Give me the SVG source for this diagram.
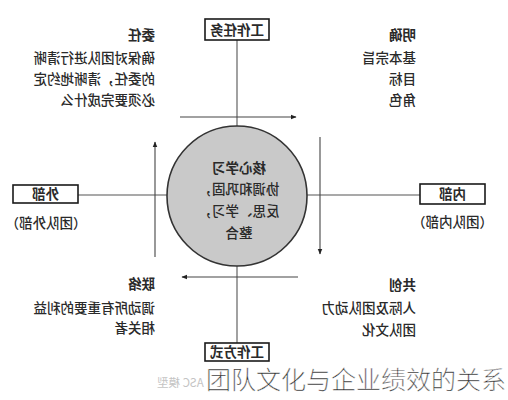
<svg xmlns="http://www.w3.org/2000/svg" width="508" height="400" viewBox="0 0 508 400">
<style>
  .t { font-family: "Noto Sans CJK SC", "Noto Sans", sans-serif; font-size: 13.5px; font-weight: 500; fill: #2a2a2a; }
  .b { font-weight: 700; }
  .c { text-anchor: middle; }
  .box { fill: #ffffff; stroke: #1a1a1a; stroke-width: 1.6; }
  .ln { stroke: #555; stroke-width: 1.1; fill: none; }
  .ar { stroke: #444; stroke-width: 1.1; fill: none; marker-end: url(#ah); }
</style>
<defs>
  <marker id="ah" viewBox="0 0 10 10" refX="9" refY="5" markerWidth="6" markerHeight="6" orient="auto" markerUnits="userSpaceOnUse">
    <path d="M0,1 L10,5 L0,9 Z" fill="#222"/>
  </marker>
</defs>
<rect width="508" height="400" fill="#ffffff"/>
<g id="mirrored" transform="matrix(-1 0 0 1 508 0)">
  <g id="connectors">
    <line class="ln" x1="271" y1="40" x2="271" y2="343"/>
    <line class="ln" x1="88" y1="195" x2="430" y2="195"/>
    <line class="ar" x1="328" y1="117" x2="212" y2="117"/>
    <line class="ar" x1="188" y1="137" x2="188" y2="254"/>
    <line class="ar" x1="210" y1="277" x2="326" y2="277"/>
    <line class="ar" x1="353" y1="257" x2="353" y2="142"/>
  </g>
  <g id="core">
    <circle cx="271" cy="196" r="70" fill="#c9c9c9" stroke="#333" stroke-width="1.6"/>
    <text class="t b c" x="269" y="173">核心学习</text>
    <text class="t c" x="269" y="194">协调和巩固，</text>
    <text class="t c" x="269" y="216">反思、学习，</text>
    <text class="t c" x="269" y="238">整合</text>
  </g>
  <g id="task">
    <rect class="box" x="239" y="19" width="64" height="21"/>
    <text class="t b c" x="271" y="34.5">工作任务</text>
  </g>
  <g id="way">
    <rect class="box" x="239" y="343" width="64" height="18"/>
    <text class="t b c" x="271" y="357">工作方式</text>
  </g>
  <g id="inner">
    <rect class="box" x="23" y="184" width="65" height="20"/>
    <text class="t b c" x="55.5" y="199">内部</text>
    <text class="t c" x="55.5" y="227">（团队内部）</text>
  </g>
  <g id="outer">
    <rect class="box" x="430" y="185" width="65" height="18"/>
    <text class="t b c" x="462.5" y="199">外部</text>
    <text class="t c" x="462" y="228">（团队外部）</text>
  </g>
  <g id="commission">
    <text class="t b" x="353" y="40">委任</text>
    <text class="t" x="353" y="63">确保对团队进行清晰</text>
    <text class="t" x="353" y="84">的委任，清晰地约定</text>
    <text class="t" x="353" y="105">必须要完成什么</text>
  </g>
  <g id="clarify">
    <text class="t b" x="92" y="40">明确</text>
    <text class="t" x="92" y="63">基本宗旨</text>
    <text class="t" x="92" y="84">目标</text>
    <text class="t" x="92" y="105">角色</text>
  </g>
  <g id="connect">
    <text class="t b" x="353" y="289">联络</text>
    <text class="t" x="353" y="313">调动所有重要的利益</text>
    <text class="t" x="353" y="333">相关者</text>
  </g>
  <g id="cocreate">
    <text class="t b" x="92" y="290">共创</text>
    <text class="t" x="92" y="313">人际及团队动力</text>
    <text class="t" x="92" y="335">团队文化</text>
  </g>
  <text class="t" x="351" y="387" text-anchor="end" style="fill:#c4c4c4;font-size:11.5px;font-weight:400">ASC 模型</text>
</g>
<text id="watermark" x="206" y="389" style="font-family:'Noto Sans CJK SC','Noto Sans',sans-serif;font-size:25px;font-weight:300;fill:#222;stroke:#fff;stroke-width:0.4">团队文化与企业绩效的关系</text>
</svg>
